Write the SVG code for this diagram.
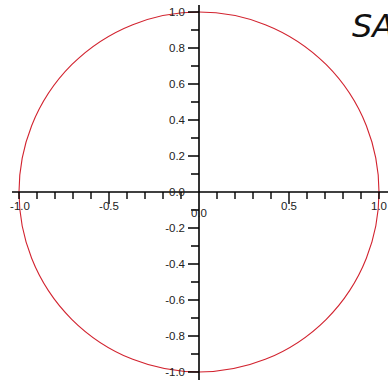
<svg xmlns="http://www.w3.org/2000/svg" width="388" height="381" viewBox="0 0 388 381">
<style>
.ax{stroke:#000;stroke-width:1.6;fill:none}
.tk{stroke:#000;stroke-width:1.4;fill:none}
.lb{font-family:"Liberation Sans",Arial,sans-serif;font-size:11.5px;fill:#222}
.yl{text-anchor:end}
.xl{text-anchor:middle}
</style>
<rect width="388" height="381" fill="#fff"/>
<circle cx="199" cy="192" r="180" fill="none" stroke="#d2232f" stroke-width="1.1"/>
<g id="axes">
<line class="ax" x1="12" y1="192" x2="388" y2="192"/>
<line class="ax" x1="199" y1="5" x2="199" y2="380"/>
</g>
<g id="xticks">
<path class="tk" d="M19 192v7M37 192v7M55 192v7M73 192v7M91 192v7M109 192v12M127 192v7M145 192v7M163 192v7M181 192v7M217 192v7M235 192v7M253 192v7M271 192v7M289 192v12M307 192v7M325 192v7M343 192v7M361 192v7M379 192v7"/>
</g>
<g id="yticks">
<path class="tk" d="M188 12h11M191 30h8M188 48h11M191 66h8M188 84h11M191 102h8M188 120h11M191 138h8M188 156h11M191 174h8M191 210h8M188 228h11M191 246h8M188 264h11M191 282h8M188 300h11M191 318h8M188 336h11M191 354h8M188 372h11"/>
</g>
<g id="ylabels" class="lb yl">
<text x="185" y="16">1.0</text>
<text x="185" y="52">0.8</text>
<text x="185" y="88">0.6</text>
<text x="185" y="124">0.4</text>
<text x="185" y="160">0.2</text>
<text x="185" y="196">0.0</text>
<text x="185" y="232">-0.2</text>
<text x="185" y="268">-0.4</text>
<text x="185" y="304">-0.6</text>
<text x="185" y="340">-0.8</text>
<text x="185" y="376">-1.0</text>
</g>
<g id="xlabels" class="lb xl">
<text x="20" y="210">-1.0</text>
<text x="109" y="210">-0.5</text>
<text x="199" y="217">0.0</text>
<text x="289" y="210">0.5</text>
<text x="379" y="210">1.0</text>
</g>
<text x="352" y="37" font-family="DejaVu Sans,sans-serif" font-style="italic" font-size="32" fill="#111">SA</text>
</svg>
